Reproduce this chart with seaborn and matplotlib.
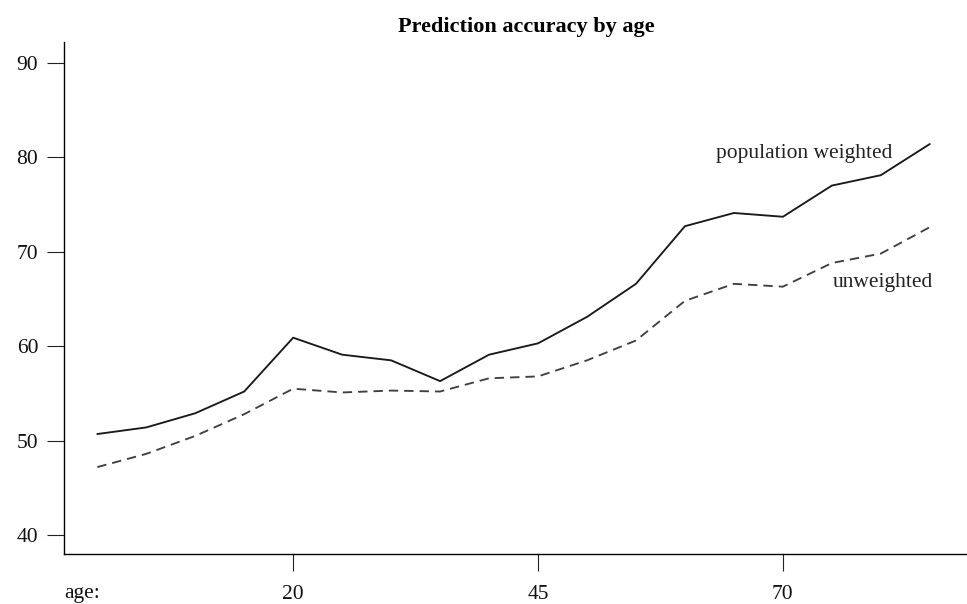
import numpy as np
import pandas as pd
import matplotlib
matplotlib.use("Agg")
import matplotlib.pyplot as plt
import seaborn as sns

ages = [0, 5, 10, 15, 20, 25, 30, 35, 40, 45, 50, 55, 60, 65, 70, 75, 80, 85]
weighted = [50.7, 51.4, 52.9, 55.2, 60.9, 59.1, 58.5, 56.3, 59.1, 60.3,
            63.1, 66.6, 72.7, 74.1, 73.7, 77.0, 78.1, 81.4]
unweighted = [47.2, 48.6, 50.5, 52.8, 55.5, 55.1, 55.3, 55.2, 56.6, 56.8,
              58.5, 60.6, 64.8, 66.6, 66.3, 68.8, 69.8, 72.6]
series_names = ["population weighted", "unweighted"]
x_ticks = [20, 45, 70]
y_ticks = [40, 50, 60, 70, 80, 90]
title = "Prediction accuracy by age"

df = pd.concat([
    pd.DataFrame({"age": ages, "accuracy": weighted, "series": series_names[0]}),
    pd.DataFrame({"age": ages, "accuracy": unweighted, "series": series_names[1]}),
])

sns.set_theme(style="ticks")
plt.rcParams["font.family"] = ["Liberation Serif", "DejaVu Serif"]

fig = plt.figure(figsize=(9.67, 6.04), dpi=100)
ax = fig.add_axes([64 / 967, 50 / 604, 1 - 64 / 967, (554 - 42) / 604])

sns.lineplot(data=df, x="age", y="accuracy", hue="series", style="series",
             palette={series_names[0]: "#1a1a1a", series_names[1]: "#404040"},
             dashes={series_names[0]: "", series_names[1]: (5, 3.2)},
             linewidth=1.35, legend=False, ax=ax)

ax.set_xlim(-3.4, 88.8)
ax.set_ylim(38, 92.2)
ax.set_xticks(x_ticks)
ax.set_yticks(y_ticks)
ax.set_xlabel("")
ax.set_ylabel("")
for s in ["top", "right"]:
    ax.spines[s].set_visible(False)
for s in ["left", "bottom"]:
    ax.spines[s].set_linewidth(1.0)
    ax.spines[s].set_color("black")
ax.tick_params(axis="both", direction="out", length=12.5, width=0.8,
               color="#222222", labelsize=15.5, labelcolor="#111111")
ax.tick_params(axis="x", pad=10)
ax.tick_params(axis="y", pad=6)

ax.annotate("age:", xy=(0, 0), xycoords="axes fraction",
            xytext=(0, -44 * 0.72), textcoords="offset points",
            ha="left", va="baseline", fontsize=15.5, color="#111111")

ax.text(81.2, 80.4, series_names[0], ha="right", va="center", fontsize=15.5,
        color="#222222")
ax.text(85.3, 66.7, series_names[1], ha="right", va="center", fontsize=15.5,
        color="#222222")

fig.text(526 / 967, 1 - 27 / 604, title, ha="center", va="center",
         fontsize=16, fontweight="bold", color="black")

fig.savefig("out.png", dpi=100, facecolor="white")
